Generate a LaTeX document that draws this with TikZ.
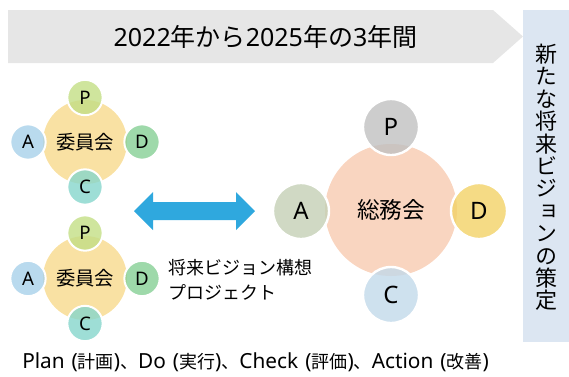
\documentclass[tikz,border=0pt]{standalone}
\usepackage{fontspec}
\setmainfont{Noto Sans}
\newfontfamily\jp{Noto Sans CJK JP}
\newfontfamily\jpv[RawFeature=+vert]{Noto Sans CJK JP}
\newcommand{\Kc}[1]{{\jp\fontsize{13.5pt}{15pt}\selectfont #1}}
\newcommand{\capsp}{\hspace{5.25pt}}
\definecolor{bannergray}{HTML}{E6E6E6}
\definecolor{boxblue}{HTML}{DCE6F2}
\definecolor{arrowblue}{HTML}{2FA8DE}
\definecolor{ybig}{HTML}{F9E1A3}
\definecolor{pgreen}{HTML}{C3DE85}
\definecolor{ablue}{HTML}{A8D1EA}
\definecolor{dgreen}{HTML}{86CF95}
\definecolor{cteal}{HTML}{86D6CC}
\definecolor{peach}{HTML}{F9D5C0}
\definecolor{pgray}{HTML}{C0C0C0}
\definecolor{asage}{HTML}{C4D0B5}
\definecolor{dyellow}{HTML}{F2D267}
\definecolor{clblue}{HTML}{C2D9EA}
\begin{document}
\begin{tikzpicture}[x=0.75pt,y=-0.75pt,
  bigsmall/.style={circle,inner sep=0pt,minimum size=63pt,fill=ybig,
    font=\jp\fontsize{14.5pt}{16pt}\selectfont},
  satsmall/.style={circle,inner sep=0pt,minimum size=26.5pt,draw=white,
    line width=1.5pt,fill opacity=0.8,text opacity=1,
    font=\fontsize{14pt}{15pt}\selectfont},
  bigright/.style={circle,inner sep=0pt,minimum size=99pt,fill=peach,
    font=\jp\fontsize{17pt}{19pt}\selectfont},
  satright/.style={circle,inner sep=0pt,minimum size=42pt,draw=white,
    line width=1.8pt,fill opacity=0.8,text opacity=1,
    font=\fontsize{18pt}{19pt}\selectfont}]
\useasboundingbox (0,0) rectangle (569,376);
% banner
\fill[bannergray] (8,10) -- (493,10) -- (523,36.5) -- (493,63) -- (8,63) -- cycle;
\node[inner sep=0pt,font=\fontsize{18.75pt}{20pt}\selectfont] (banner) at (265.5,37)
  {2022{\jp 年から}2025{\jp 年の}3{\jp 年間}};
% vertical box
\fill[boxblue] (523,10) rectangle (569,342);
\node[inner sep=0pt,align=center,font=\jpv\fontsize{16.5pt}{16.8pt}\selectfont] (goal) at (546,177.5)
  {新\\た\\な\\将\\来\\ビ\\ジ\\ョ\\ン\\の\\策\\定};
% top-left cluster
\node[bigsmall] (c1) at (85,142) {委員会};
\node[satsmall,fill=pgreen] (c1p) at (85,97.5) {P};
\node[satsmall,fill=ablue] (c1a) at (28,142) {A};
\node[satsmall,fill=dgreen] (c1d) at (142,142) {D};
\node[satsmall,fill=cteal] (c1c) at (85,187) {C};
% bottom-left cluster
\node[bigsmall] (c2) at (85,278) {委員会};
\node[satsmall,fill=pgreen] (c2p) at (85,233) {P};
\node[satsmall,fill=ablue] (c2a) at (28,278.5) {A};
\node[satsmall,fill=dgreen] (c2d) at (142,278.5) {D};
\node[satsmall,fill=cteal] (c2c) at (85,323.5) {C};
% right cluster
\node[bigright] (c3) at (391,210) {総務会};
\node[satright,fill=pgray] (c3p) at (391,127) {P};
\node[satright,fill=asage] (c3a) at (301,211) {A};
\node[satright,fill=dyellow] (c3d) at (479,211) {D};
\node[satright,fill=clblue] (c3c) at (391,295) {C};
% double arrow
\fill[arrowblue] (134,211) -- (153,192) -- (153,202) -- (236,202) -- (236,192)
  -- (255,211) -- (236,230) -- (236,220) -- (153,220) -- (153,230) -- cycle;
\node[inner sep=0pt,align=left,anchor=west,font=\jp\fontsize{13.5pt}{18.75pt}\selectfont] (proj) at (168,279.5)
  {将来ビジョン構想\\プロジェクト};
% bottom caption
\node[inner sep=0pt,anchor=west,font=\fontsize{15.6pt}{17pt}\selectfont] (cap) at (22,362)
  {Plan\capsp(\Kc{計画})\Kc{、}Do\capsp(\Kc{実行})\Kc{、}Check\capsp(\Kc{評価})\Kc{、}Action\capsp(\Kc{改善})};
\end{tikzpicture}
\end{document}
